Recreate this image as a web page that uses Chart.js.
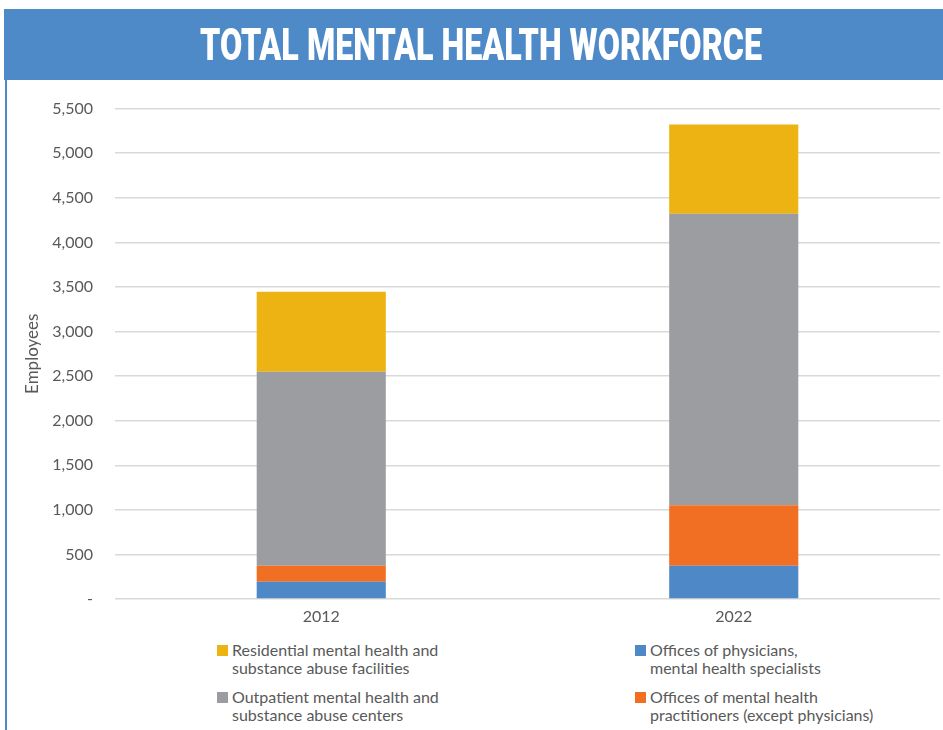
<!DOCTYPE html>
<html>
<head>
<meta charset="utf-8">
<script src="https://cdn.jsdelivr.net/npm/chart.js@4"></script>
<style>
    body { margin: 0; background: #fff; width: 943px; height: 730px; position: relative; overflow: hidden; font-family: Lato, sans-serif; }
    #banner { position: absolute; left: 4px; top: 9px; width: 939px; height: 71px; background: #4f8ac8; z-index: 2; }
    #bannerText { position: absolute; left: 200px; top: 0; white-space: nowrap; color: #fff; font-family: Roboto, sans-serif; font-weight: 900; font-size: 42px; line-height: 71px; transform-origin: 0 50%; }
    #leftLine { position: absolute; left: 5px; top: 80px; width: 2px; height: 650px; background: #4f8ac8; z-index: 2; }
    #chartBox { position: absolute; left: 0; top: 77px; width: 943px; height: 555px; }
    .leg { position: absolute; font-size: 16px; line-height: 18px; color: #595959; padding-left: 15px; }
    .leg i { position: absolute; left: 0; top: 4px; width: 11px; height: 11px; }
</style>
</head>
<body>
<div id="banner"><span id="bannerText">TOTAL MENTAL HEALTH WORKFORCE</span></div>
<div id="leftLine"></div>
<div id="chartBox"><canvas id="workforceChart"></canvas></div>
<div id="legend"></div>

<script>
// Data
const years = ['2012', '2022'];
const physicians = [194, 373];
const practitioners = [179, 678];
const outpatient = [2176, 3270];
const residential = [897, 1002];
const yTicks = [0, 500, 1000, 1500, 2000, 2500, 3000, 3500, 4000, 4500, 5000, 5500];

const seriesNames = [
    'Offices of physicians,\nmental health specialists',
    'Offices of mental health\npractitioners (except physicians)',
    'Outpatient mental health and\nsubstance abuse centers',
    'Residential mental health and\nsubstance abuse facilities'
];
const seriesColors = ['#4f88c6', '#f06f22', '#9c9da1', '#edb312'];

// squeeze the banner title into a condensed look
const bannerText = document.getElementById('bannerText');
bannerText.style.left = (200 - 4) + 'px';
bannerText.style.transform = 'scale(' + (562 / bannerText.offsetWidth) + ', 1.05)';

const ctx = document.getElementById('workforceChart');
new Chart(ctx, {
    type: 'bar',
    data: {
        labels: years,
        datasets: [
            { label: seriesNames[0], data: physicians, backgroundColor: seriesColors[0] },
            { label: seriesNames[1], data: practitioners, backgroundColor: seriesColors[1] },
            { label: seriesNames[2], data: outpatient, backgroundColor: seriesColors[2] },
            { label: seriesNames[3], data: residential, backgroundColor: seriesColors[3] }
        ]
    },
    options: {
        responsive: true,
        maintainAspectRatio: false,
        animation: false,
        layout: { padding: { top: 18, right: 3, bottom: 0, left: 22 } },
        datasets: { bar: { categoryPercentage: 1, barPercentage: 0.313 } },
        plugins: {
            legend: { display: false },
            tooltip: { enabled: false }
        },
        scales: {
            x: {
                stacked: true,
                grid: { display: false },
                border: { display: false },
                ticks: { color: '#595959', font: { family: 'Lato', size: 16 }, padding: 0 },
                afterFit: function(axis) { axis.height = 33; }
            },
            y: {
                stacked: true,
                min: 0,
                max: 5500,
                afterBuildTicks: function(axis) { axis.ticks = yTicks.map(v => ({ value: v })); },
                grid: { color: '#d9d9d9', lineWidth: 1.5, drawTicks: false },
                border: { display: false },
                ticks: {
                    color: '#595959',
                    font: { family: 'Lato', size: 16 },
                    padding: 22,
                    callback: function(value) {
                        return value === 0 ? '-' : value.toLocaleString('en-US');
                    }
                },
                title: {
                    display: true,
                    text: 'Employees',
                    color: '#595959',
                    font: { family: 'Lato', size: 17 },
                    padding: { top: 0, bottom: 0 }
                },
                afterFit: function(axis) { axis.width = 93; }
            }
        }
    }
});

// Legend laid out like the original: two columns, two rows
const legendSpots = [
    { i: 3, left: 217, top: 641 },
    { i: 2, left: 217, top: 688 },
    { i: 0, left: 635, top: 641 },
    { i: 1, left: 635, top: 688 }
];
const legendBox = document.getElementById('legend');
legendSpots.forEach(function(spot) {
    const div = document.createElement('div');
    div.className = 'leg';
    div.style.left = spot.left + 'px';
    div.style.top = spot.top + 'px';
    const sw = document.createElement('i');
    sw.style.background = seriesColors[spot.i];
    div.appendChild(sw);
    seriesNames[spot.i].split('\n').forEach(function(line, k) {
        if (k > 0) div.appendChild(document.createElement('br'));
        div.appendChild(document.createTextNode(line));
    });
    legendBox.appendChild(div);
});
</script>
</body>
</html>
